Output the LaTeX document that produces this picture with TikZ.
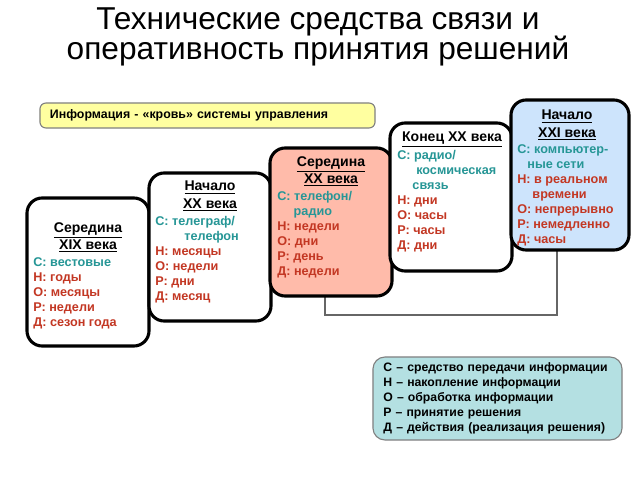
\documentclass[tikz,border=0pt]{standalone}
\usepackage{fontspec}
\setmainfont{Liberation Sans}
\definecolor{tealtxt}{RGB}{38,150,150}
\definecolor{redtxt}{RGB}{195,55,35}
\definecolor{salmon}{RGB}{255,187,170}
\definecolor{skyfill}{RGB}{205,228,252}
\definecolor{infofill}{RGB}{255,255,160}
\definecolor{legfill}{RGB}{180,224,226}
\begin{document}
\begin{tikzpicture}[
                x=0.025cm, y=-0.025cm,
                font=\bfseries\fontsize{9}{10.7}\selectfont,
                era/.style={rectangle, draw=black, line width=2.2pt, rounded corners=0.38cm, fill=white, minimum width=3.05cm, minimum height=3.7cm},
                head/.style={anchor=north, align=center, inner sep=0pt, font=\bfseries\fontsize{10}{12.2}\selectfont},
                list/.style={anchor=north west, align=left, inner sep=0pt, text=redtxt},
                note/.style={rectangle, draw=gray, line width=0.8pt, align=left, inner sep=0pt},
                loopline/.style={draw=gray!80!black, line width=1.2pt}
            ]
                \useasboundingbox (0,0) rectangle (640,480);
                \node[align=center, font=\fontsize{22.5}{21.5}\selectfont] (title) at (318,37) {Технические средства связи и\\оперативность принятия решений};
                \node[note, fill=infofill, rounded corners=0.15cm, minimum width=8.375cm, minimum height=0.625cm, text width=7.875cm, font=\bfseries\fontsize{8.8}{10.5}\selectfont] (info) at (207.5,115.5) {Информация - «кровь» системы управления};

                % line behind the boxes
                \coordinate (lk) at (325,315);
                \coordinate (rk) at (557,315);
                \coordinate (lt) at (325,222);
                \coordinate (rt) at (557,175);
                \draw[loopline] (lt) -- (lk) -- (rk) -- (rt);

                \node[era] (b1) at (88,272) {};
                \node[era] (b2) at (210,247) {};
                \node[era, fill=salmon] (b3) at (331,222) {};
                \node[era] (b4) at (451,197) {};
                \node[era, fill=skyfill, minimum width=2.95cm, minimum height=3.75cm] (b5) at (570,175) {};

                \node[head] (b1h) at (88,222) {\underline{Середина}\\\underline{XIX века}};
                \node[list] (b1l) at (33,257) {\textcolor{tealtxt}{С: вестовые}\\Н: годы\\О: месяцы\\Р: недели\\Д: сезон года};

                \node[head] (b2h) at (210,181) {\underline{Начало}\\\underline{XX века}};
                \node[list] (b2l) at (155,216) {\textcolor{tealtxt}{С: телеграф/}\\\textcolor{tealtxt}{\hspace{2.3em}телефон}\\Н: месяцы\\О: недели\\Р: дни\\Д: месяц};

                \node[head] (b3h) at (331,156) {\underline{Середина}\\\underline{XX века}};
                \node[list] (b3l) at (277,191) {\textcolor{tealtxt}{С: телефон/}\\\textcolor{tealtxt}{\hspace{1.3em}радио}\\Н: недели\\О: дни\\Р: день\\Д: недели};

                \node[head] (b4h) at (452,132) {\underline{Конец XX века}};
                \node[list] (b4l) at (397,150) {\textcolor{tealtxt}{С: радио/}\\\textcolor{tealtxt}{\hspace{1.5em}космическая}\\\textcolor{tealtxt}{\hspace{1.2em}связь}\\Н: дни\\О: часы\\Р: часы\\Д: дни};

                \node[head] (b5h) at (567,110) {\underline{Начало}\\\underline{XXI века}};
                \node[list] (b5l) at (517,144) {\textcolor{tealtxt}{С: компьютер-}\\\textcolor{tealtxt}{\hspace{0.8em}ные сети}\\Н: в реальном\\\hspace{1.2em}времени\\О: непрерывно\\Р: немедленно\\Д: часы};

                \node[note, fill=legfill, rounded corners=0.3cm, minimum width=6.225cm, minimum height=2.075cm, text width=5.7cm, font=\bfseries\fontsize{8.7}{10.7}\selectfont] (legend) at (497.5,398.5) {С – средство передачи информации\\Н – накопление информации\\О – обработка информации\\Р – принятие решения\\Д – действия (реализация решения)};
            \end{tikzpicture}
\end{document}
